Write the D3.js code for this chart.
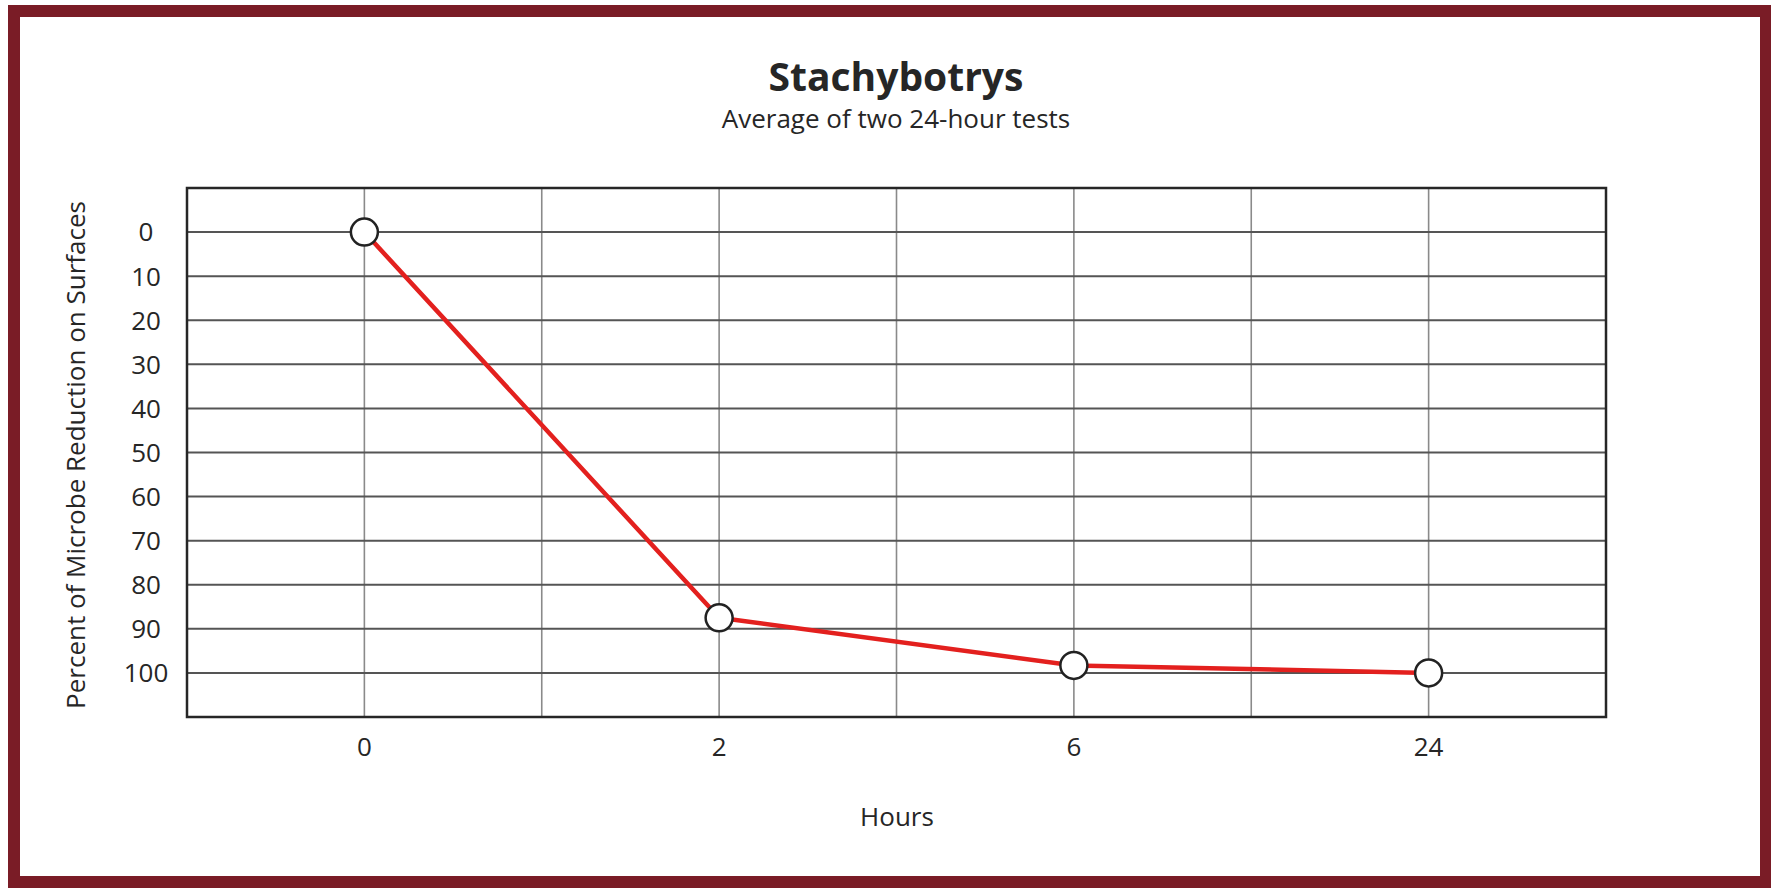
<!DOCTYPE html>
<html>
<head>
<meta charset="utf-8">
<script src="https://cdn.jsdelivr.net/npm/d3@7"></script>
<style>
  html, body { margin: 0; padding: 0; background: #fff; }
  svg { display: block; font-family: "Open Sans", "DejaVu Sans", sans-serif; }
</style>
</head>
<body>
<div id="chart"></div>
<script>
// chart data
const hours = ["0", "2", "6", "24"];
const reduction = [0, 87.5, 98.3, 100];
const yTicks = [0, 10, 20, 30, 40, 50, 60, 70, 80, 90, 100];
const xGridSteps = [0, 0.5, 1, 1.5, 2, 2.5, 3];

const W = 1771, H = 888;
const plot = { left: 187, right: 1606, top: 188, bottom: 717 };

const svg = d3.select("#chart").append("svg")
  .attr("width", W)
  .attr("height", H);

// outer frame
svg.append("rect")
  .attr("x", 14).attr("y", 11)
  .attr("width", 1752).attr("height", 871)
  .attr("fill", "#fff")
  .attr("stroke", "#7a1c26")
  .attr("stroke-width", 12);

// titles
svg.append("text")
  .attr("x", 896).attr("y", 91)
  .attr("text-anchor", "middle")
  .attr("font-size", 39).attr("font-weight", 700)
  .attr("fill", "#262626")
  .text("Stachybotrys");

svg.append("text")
  .attr("x", 896).attr("y", 128)
  .attr("text-anchor", "middle")
  .attr("font-size", 26)
  .attr("fill", "#262626")
  .text("Average of two 24-hour tests");

// scales: index based x, inverted y (0 at top)
const x = d3.scaleLinear().domain([-0.5, 3.5]).range([plot.left, plot.right]);
const y = d3.scaleLinear().domain([-10, 110]).range([plot.top, plot.bottom]);

const g = svg.append("g");

// vertical grid
g.selectAll(".vgrid").data(xGridSteps).enter().append("line")
  .attr("class", "vgrid")
  .attr("x1", d => x(d)).attr("x2", d => x(d))
  .attr("y1", plot.top).attr("y2", plot.bottom)
  .attr("stroke", "#8a8a8a").attr("stroke-width", 1.6);

// horizontal grid
g.selectAll(".hgrid").data(yTicks).enter().append("line")
  .attr("class", "hgrid")
  .attr("x1", plot.left).attr("x2", plot.right)
  .attr("y1", d => y(d)).attr("y2", d => y(d))
  .attr("stroke", "#555").attr("stroke-width", 2);

// plot border
g.append("rect")
  .attr("x", plot.left).attr("y", plot.top)
  .attr("width", plot.right - plot.left).attr("height", plot.bottom - plot.top)
  .attr("fill", "none").attr("stroke", "#262626").attr("stroke-width", 2.5);

// y tick labels
g.selectAll(".ylab").data(yTicks).enter().append("text")
  .attr("class", "ylab")
  .attr("x", 146).attr("y", d => y(d))
  .attr("dy", "0.36em")
  .attr("text-anchor", "middle")
  .attr("font-size", 26).attr("fill", "#262626")
  .text(d => d);

// x tick labels
g.selectAll(".xlab").data(hours).enter().append("text")
  .attr("class", "xlab")
  .attr("x", (d, i) => x(i)).attr("y", 756)
  .attr("text-anchor", "middle")
  .attr("font-size", 26).attr("fill", "#262626")
  .text(d => d);

// axis titles
svg.append("text")
  .attr("x", 897).attr("y", 826)
  .attr("text-anchor", "middle")
  .attr("font-size", 26).attr("fill", "#262626")
  .text("Hours");

svg.append("text")
  .attr("transform", "translate(85,455) rotate(-90)")
  .attr("text-anchor", "middle")
  .attr("font-size", 26).attr("fill", "#262626")
  .text("Percent of Microbe Reduction on Surfaces");

// data line
const line = d3.line()
  .x((d, i) => x(i))
  .y(d => y(d));

g.append("path")
  .datum(reduction)
  .attr("fill", "none")
  .attr("stroke", "#e3201e")
  .attr("stroke-width", 4.5)
  .attr("stroke-linejoin", "round")
  .attr("d", line);

g.selectAll(".pt").data(reduction).enter().append("circle")
  .attr("class", "pt")
  .attr("cx", (d, i) => x(i)).attr("cy", d => y(d))
  .attr("r", 13.5)
  .attr("fill", "#fff")
  .attr("stroke", "#222").attr("stroke-width", 2.5);
</script>
</body>
</html>
